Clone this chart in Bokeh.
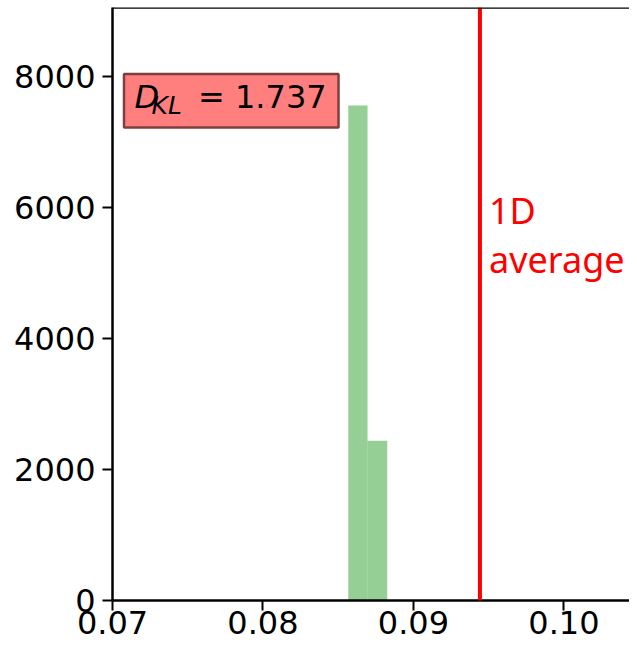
from bokeh.plotting import figure
from bokeh.models import Range1d, Span, Label, BoxAnnotation, FixedTicker, NumeralTickFormatter
from bokeh.embed import file_html
from bokeh.resources import INLINE

# ---- data ----
bin_edges = [0.08567, 0.08695, 0.08826]
counts = [7556, 2440]
avg_1d = 0.09442
dkl_value = 1.737
x_ticks = [0.07, 0.08, 0.09, 0.10]
y_ticks = [0, 2000, 4000, 6000, 8000]
avg_label = ["1D", "average"]

# ---- layout ----
W, H = 629, 640
FL, FT, FB = 112, 7, 40
X0, X1 = 0.07, 0.10436
Y0, Y1 = 0, 9053
FW = W - FL
FH = H - FT - FB


def dx(px):
    return X0 + (px - FL) / FW * (X1 - X0)


def dy(py):
    return Y1 - (py - FT) / FH * (Y1 - Y0)


p = figure(width=W, height=H, output_backend="svg", toolbar_location=None,
           x_range=Range1d(X0, X1), y_range=Range1d(Y0, Y1),
           min_border_left=FL, min_border_right=0, min_border_top=FT,
           min_border_bottom=FB)
p.outline_line_color = None
p.xgrid.visible = False
p.ygrid.visible = False
p.background_fill_color = "white"
p.border_fill_color = "white"

p.quad(left=bin_edges[:-1], right=bin_edges[1:], bottom=0, top=counts,
       fill_color="#2ca02c", fill_alpha=0.5, line_color=None)

p.add_layout(Span(location=avg_1d, dimension="height", line_color="red", line_width=4))
p.add_layout(Span(location=Y1, dimension="width", line_color="black", line_width=2.5))

for ax in (p.xaxis[0], p.yaxis[0]):
    ax.axis_line_width = 2.5
    ax.axis_line_color = "black"
    ax.major_tick_line_width = 2
    ax.major_tick_line_color = "black"
    ax.major_tick_out = 10
    ax.major_tick_in = 0
    ax.minor_tick_line_color = None
    ax.major_label_text_font = "DejaVu Sans"
    ax.major_label_text_font_size = "32px"
    ax.major_label_text_color = "black"

p.xaxis[0].ticker = FixedTicker(ticks=x_ticks)
p.xaxis[0].formatter = NumeralTickFormatter(format="0.00")
p.xaxis[0].major_label_standoff = 0
p.yaxis[0].ticker = FixedTicker(ticks=y_ticks)
p.yaxis[0].formatter = NumeralTickFormatter(format="0")
p.yaxis[0].major_label_standoff = 7

# 1D average label
p.add_layout(Label(x=dx(488.5), y=dy(210), text=avg_label[0], text_font="Noto Sans",
                   text_font_size="36px", text_color="red", text_baseline="alphabetic"))
p.add_layout(Label(x=dx(488.5), y=dy(259), text=avg_label[1], text_font="Noto Sans",
                   text_font_size="36px", text_color="red", text_baseline="alphabetic"))

# D_KL box
p.add_layout(BoxAnnotation(left=dx(123.5), right=dx(338), top=dy(73.5), bottom=dy(127),
                           fill_color="#ff0000", fill_alpha=0.5,
                           line_color="#7f3f3f", line_width=2.5, line_alpha=1))
p.add_layout(Label(x=dx(134), y=dy(96.5), text="D", text_font="DejaVu Sans",
                   text_font_style="italic", text_font_size="32px", text_color="black",
                   text_baseline="alphabetic"))
p.add_layout(Label(x=dx(151), y=dy(104.5), text="KL", text_font="DejaVu Sans",
                   text_font_style="italic", text_font_size="25px", text_color="black",
                   text_baseline="alphabetic"))
p.add_layout(Label(x=dx(197.5), y=dy(96.5), text="= %.3f" % dkl_value, text_font="DejaVu Sans",
                   text_font_size="32px", text_color="black", text_baseline="alphabetic"))

open("out.html", "w").write(file_html(p, INLINE))
